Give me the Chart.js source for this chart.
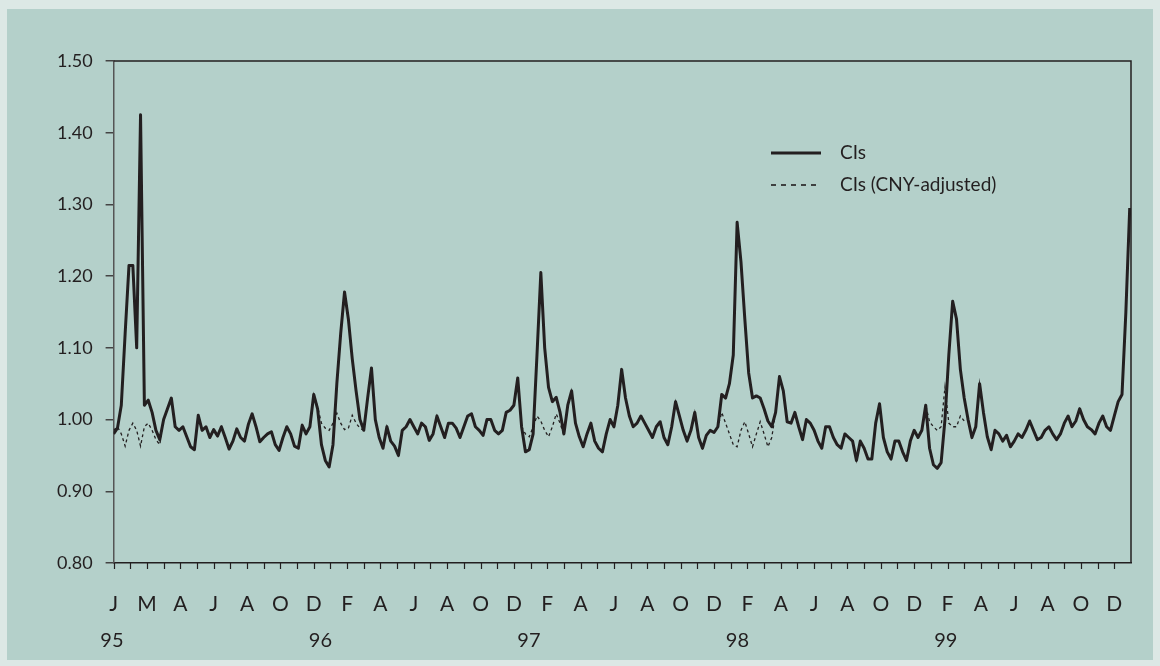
<!DOCTYPE html>
<html>
<head>
<meta charset="utf-8">
<script src="https://cdn.jsdelivr.net/npm/chart.js@4.4.1/dist/chart.umd.min.js"></script>
<style>
  html, body { margin: 0; padding: 0; background: #dce8e5; }
  #wrap { width: 1160px; height: 666px; position: relative; }
</style>
</head>
<body>
<div id="wrap"><canvas id="c" width="1160" height="666"></canvas></div>
<script>
// ---- data (weekly observations, Jan 1995 - Dec 1999) ----
const monthLabels = ['J','M','A','J','A','O','D','F','A','J','A','O','D','F','A','J','A','O','D','F','A','J','A','O','D','F','A','J','A','O','D'];
const yearLabels = ['95','96','97','98','99'];
const seriesNames = ['CIs', 'CIs (CNY-adjusted)'];

const cis = [
  0.980,0.988,1.020,1.120,1.215,1.215,1.100,1.425,1.020,1.027,
  1.010,0.985,0.972,1.000,1.015,1.030,0.990,0.985,0.990,0.976,
  0.962,0.958,1.006,0.985,0.990,0.975,0.986,0.977,0.990,0.975,
  0.959,0.970,0.987,0.975,0.970,0.993,1.008,0.990,0.969,0.975,
  0.980,0.983,0.965,0.957,0.975,0.990,0.980,0.963,0.960,0.992,
  0.980,0.990,1.035,1.015,0.965,0.943,0.934,0.965,1.050,1.120,
  1.178,1.140,1.085,1.040,1.000,0.985,1.030,1.072,1.000,0.975,
  0.960,0.990,0.970,0.963,0.950,0.985,0.990,1.000,0.990,0.980,
  0.995,0.990,0.971,0.980,1.005,0.990,0.975,0.995,0.995,0.988,
  0.975,0.990,1.005,1.008,0.990,0.985,0.978,1.000,1.000,0.985,
  0.980,0.985,1.010,1.013,1.020,1.058,0.990,0.955,0.958,0.980,
  1.090,1.205,1.100,1.045,1.025,1.031,1.010,0.980,1.020,1.040,
  0.995,0.976,0.962,0.980,0.995,0.970,0.960,0.955,0.980,1.000,
  0.990,1.020,1.070,1.030,1.005,0.990,0.995,1.005,0.995,0.985,
  0.975,0.990,0.997,0.975,0.965,0.990,1.025,1.005,0.985,0.970,
  0.985,1.010,0.975,0.960,0.978,0.985,0.982,0.990,1.035,1.030,
  1.050,1.090,1.275,1.220,1.140,1.065,1.030,1.033,1.030,1.015,
  0.998,0.990,1.010,1.060,1.040,0.997,0.995,1.010,0.990,0.972,
  1.000,0.995,0.985,0.970,0.960,0.990,0.990,0.975,0.965,0.960,
  0.980,0.975,0.970,0.943,0.970,0.960,0.945,0.945,0.995,1.022,
  0.975,0.955,0.945,0.970,0.970,0.955,0.943,0.970,0.985,0.975,
  0.985,1.020,0.960,0.937,0.932,0.940,1.000,1.090,1.165,1.140,
  1.070,1.030,1.000,0.975,0.990,1.050,1.010,0.976,0.958,0.985,
  0.980,0.970,0.978,0.962,0.970,0.980,0.975,0.985,0.998,0.985,
  0.972,0.975,0.985,0.990,0.980,0.972,0.980,0.995,1.005,0.990,
  0.998,1.015,1.000,0.990,0.986,0.980,0.995,1.005,0.990,0.985,
  1.005,1.025,1.035,1.150,1.295
];

const cisAdjusted = [
  0.985,0.990,0.980,0.963,0.985,0.995,0.985,0.963,0.990,0.995,
  0.985,0.972,0.965,1.000,1.015,1.030,0.990,0.985,0.990,0.976,
  0.962,0.958,1.006,0.985,0.990,0.975,0.986,0.977,0.990,0.975,
  0.959,0.970,0.987,0.975,0.970,0.993,1.008,0.990,0.969,0.975,
  0.980,0.983,0.965,0.957,0.975,0.990,0.980,0.963,0.960,0.992,
  0.980,0.990,1.035,1.018,0.995,0.988,0.985,0.995,1.009,0.995,
  0.986,0.988,1.006,0.995,0.988,0.985,1.030,1.072,1.000,0.975,
  0.960,0.990,0.970,0.963,0.950,0.985,0.990,1.000,0.990,0.980,
  0.995,0.990,0.971,0.980,1.005,0.990,0.975,0.995,0.995,0.988,
  0.975,0.990,1.005,1.008,0.990,0.985,0.978,1.000,1.000,0.985,
  0.980,0.985,1.010,1.013,1.020,1.058,0.990,0.980,0.976,0.990,
  1.005,0.998,0.985,0.976,0.990,1.008,0.995,0.978,1.020,1.040,
  0.995,0.976,0.962,0.980,0.995,0.970,0.960,0.955,0.980,1.000,
  0.990,1.020,1.070,1.030,1.005,0.990,0.995,1.005,0.995,0.985,
  0.975,0.990,0.997,0.975,0.965,0.990,1.025,1.005,0.985,0.970,
  0.985,1.010,0.975,0.960,0.978,0.985,0.982,0.990,1.010,0.995,
  0.980,0.965,0.962,0.985,0.997,0.980,0.962,0.980,0.997,0.980,
  0.962,0.975,1.010,1.060,1.040,0.997,0.995,1.010,0.990,0.972,
  1.000,0.995,0.985,0.970,0.960,0.990,0.990,0.975,0.965,0.960,
  0.980,0.975,0.970,0.943,0.970,0.960,0.945,0.945,0.995,1.022,
  0.975,0.955,0.945,0.970,0.970,0.955,0.943,0.970,0.985,0.975,
  0.985,1.020,0.997,0.990,0.985,0.990,1.045,0.995,0.990,0.990,
  1.005,0.998,1.000,0.975,0.990,1.050,1.010,0.976,0.958,0.985,
  0.980,0.970,0.978,0.962,0.970,0.980,0.975,0.985,0.998,0.985,
  0.972,0.975,0.985,0.990,0.980,0.972,0.980,0.995,1.005,0.990,
  0.998,1.015,1.000,0.990,0.986,0.980,0.995,1.005,0.990,0.985,
  1.005,1.025,1.035,1.150,1.295
];

// ---- styling ----
const INK = '#231f20';
const FONT = 'Lato, "Open Sans", "DejaVu Sans", sans-serif';
const WEEK = 12 / 52;           // weekly step expressed in months
const toPoints = arr => arr.map((v, i) => ({ x: i * WEEK, y: v }));

const panelPlugin = {
  id: 'panel',
  beforeDraw(chart) {
    const ctx = chart.ctx;
    ctx.save();
    ctx.fillStyle = '#dce8e5';
    ctx.fillRect(0, 0, chart.width, chart.height);
    ctx.fillStyle = '#b4d0ca';
    ctx.fillRect(7, 9, chart.width - 14, chart.height - 15);
    ctx.restore();
  }
};

const framePlugin = {
  id: 'frame',
  afterDraw(chart) {
    const { ctx, chartArea: a } = chart;
    const xs = chart.scales.x;
    ctx.save();
    ctx.strokeStyle = INK;
    ctx.lineWidth = 1.5;
    ctx.beginPath();
    ctx.moveTo(a.left, a.top);
    ctx.lineTo(a.right, a.top);
    ctx.lineTo(a.right, a.bottom);
    ctx.stroke();
    // monthly tick marks below the x axis
    ctx.lineWidth = 1.2;
    ctx.beginPath();
    for (let m = 0; m <= 60; m++) {
      const px = Math.round(xs.getPixelForValue(m)) + 0.5;
      ctx.moveTo(px, a.bottom);
      ctx.lineTo(px, a.bottom + 6);
    }
    ctx.stroke();
    ctx.restore();
  }
};

const yearPlugin = {
  id: 'years',
  afterDraw(chart) {
    const { ctx } = chart;
    const xs = chart.scales.x;
    ctx.save();
    ctx.fillStyle = INK;
    ctx.font = '20px ' + FONT;
    ctx.textAlign = 'center';
    ctx.textBaseline = 'middle';
    yearLabels.forEach((lab, k) => {
      ctx.fillText(lab, xs.getPixelForValue(k * 12.5 - 0.1), 641);
    });
    ctx.restore();
  }
};

const legendPlugin = {
  id: 'customLegend',
  afterDraw(chart) {
    const { ctx } = chart;
    ctx.save();
    ctx.font = '19px ' + FONT;
    ctx.fillStyle = INK;
    ctx.textAlign = 'left';
    ctx.textBaseline = 'middle';
    chart.data.datasets.forEach((ds, k) => {
      const y = 153 + k * 32;
      ctx.strokeStyle = ds.borderColor;
      ctx.lineWidth = k === 0 ? ds.borderWidth : 1.6;
      ctx.setLineDash(k === 0 ? [] : [5, 5]);
      ctx.beginPath();
      ctx.moveTo(771, y);
      ctx.lineTo(821, y);
      ctx.stroke();
      ctx.setLineDash([]);
      ctx.fillText(ds.label, 840, y);
    });
    ctx.restore();
  }
};

new Chart(document.getElementById('c'), {
  type: 'line',
  data: {
    datasets: [
      {
        label: seriesNames[0],
        data: toPoints(cis),
        borderColor: INK,
        borderWidth: 3,
        pointRadius: 0,
        tension: 0,
        borderJoinStyle: 'round',
        fill: false
      },
      {
        label: seriesNames[1],
        data: toPoints(cisAdjusted),
        borderColor: INK,
        borderWidth: 1.3,
        borderDash: [3, 3],
        pointRadius: 0,
        tension: 0,
        fill: false
      }
    ]
  },
  options: {
    responsive: false,
    animation: false,
    layout: { padding: { left: 0, top: 61, right: 28, bottom: 0 } },
    plugins: {
      legend: { display: false },
      tooltip: { enabled: false }
    },
    scales: {
      x: {
        type: 'linear',
        min: 0,
        max: 61,
        afterFit(s) { s.height = 103; },
        border: { display: true, color: INK, width: 1.5 },
        grid: { drawOnChartArea: false, drawTicks: false },
        ticks: {
          stepSize: 1,
          autoSkip: false,
          maxRotation: 0,
          padding: 29,
          color: INK,
          font: { size: 21, family: FONT },
          callback(v) {
            const k = Math.round(v);
            return (k % 2 === 0 && k / 2 < monthLabels.length) ? monthLabels[k / 2] : '';
          }
        }
      },
      y: {
        type: 'linear',
        min: 0.8,
        max: 1.5,
        afterFit(s) { s.width = 113.6; },
        border: { display: true, color: '#555555', width: 1.5 },
        grid: { drawOnChartArea: false, drawTicks: true, tickLength: 8, color: '#444444', lineWidth: 1.5 },
        ticks: {
          stepSize: 0.1,
          padding: 13,
          color: INK,
          font: { size: 18, family: FONT },
          callback(v) { return Number(v).toFixed(2); }
        }
      }
    }
  },
  plugins: [panelPlugin, framePlugin, yearPlugin, legendPlugin]
});
</script>
</body>
</html>
